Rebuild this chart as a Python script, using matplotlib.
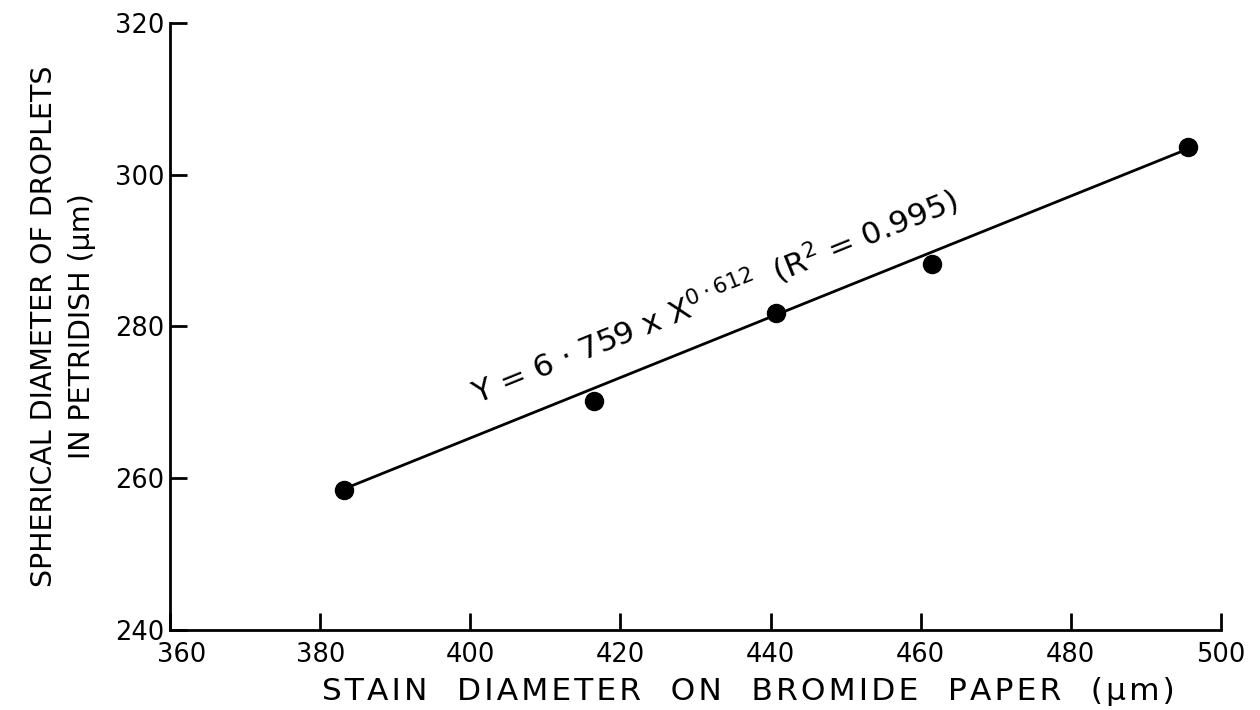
import matplotlib
matplotlib.use("Agg")
import matplotlib.pyplot as plt
import matplotlib.transforms as mtransforms

# Data
stain_diameter = [383.2, 416.5, 440.7, 461.5, 495.6]
spherical_diameter = [258.4, 270.2, 281.8, 288.2, 303.6]

fit_x = [383.2, 495.6]
fit_y = [258.6, 303.4]

x_ticks = [360, 380, 400, 420, 440, 460, 480, 500]
y_ticks = [240, 260, 280, 300, 320]

x_title = "STAIN DIAMETER ON BROMIDE PAPER (\u03bcm)"
y_title_1 = "SPHERICAL DIAMETER OF DROPLETS"
y_title_2 = "IN PETRIDISH (\u03bcm)"
equation = r"Y = 6 $\cdot$ 759 x X$^{0\cdot612}$  (R$^{2}$ = 0.995)"

plt.rcParams['font.family'] = ['DejaVu Sans']


def spaced(s):
    # widen letter spacing like the stencil lettering of the original
    return "\u200a".join(s).replace("\u200a \u200a", "   ")


fig = plt.figure(figsize=(12.6, 7.1), dpi=100)
ax = fig.add_axes([0.135, 0.1127, 0.834, 0.855])

ax.plot(fit_x, fit_y, color='black', lw=2.0, zorder=2)
ax.plot(stain_diameter, spherical_diameter, 'o', color='black',
        markersize=13, zorder=3)

ax.set_xlim(360, 500)
ax.set_ylim(240, 320)
ax.set_xticks(x_ticks)
ax.set_yticks(y_ticks)
ax.tick_params(direction='in', length=12, width=2, labelsize=18.5,
               colors='black')
ax.tick_params(axis='x', pad=9)
ax.tick_params(axis='y', pad=4)

# first x tick label sits a little to the right of the corner, as in the original
shift = mtransforms.ScaledTranslation(12 / 100, 0, fig.dpi_scale_trans)
first_label = ax.get_xticklabels()[0]
first_label.set_transform(first_label.get_transform() + shift)

for side in ['top', 'right']:
    ax.spines[side].set_visible(False)
for side in ['left', 'bottom']:
    ax.spines[side].set_linewidth(2)

ax.set_xlabel(spaced(x_title), fontsize=22.5)
ax.xaxis.set_label_coords(0.55, -0.078)
ax.set_ylabel(y_title_1 + "\n" + y_title_2,
              fontsize=20.5, labelpad=14, linespacing=1.45)

ax.text(432.5, 284.0, equation, rotation=22, fontsize=22.5,
        ha='center', va='center', rotation_mode='anchor')

fig.savefig("out.png", dpi=100)
